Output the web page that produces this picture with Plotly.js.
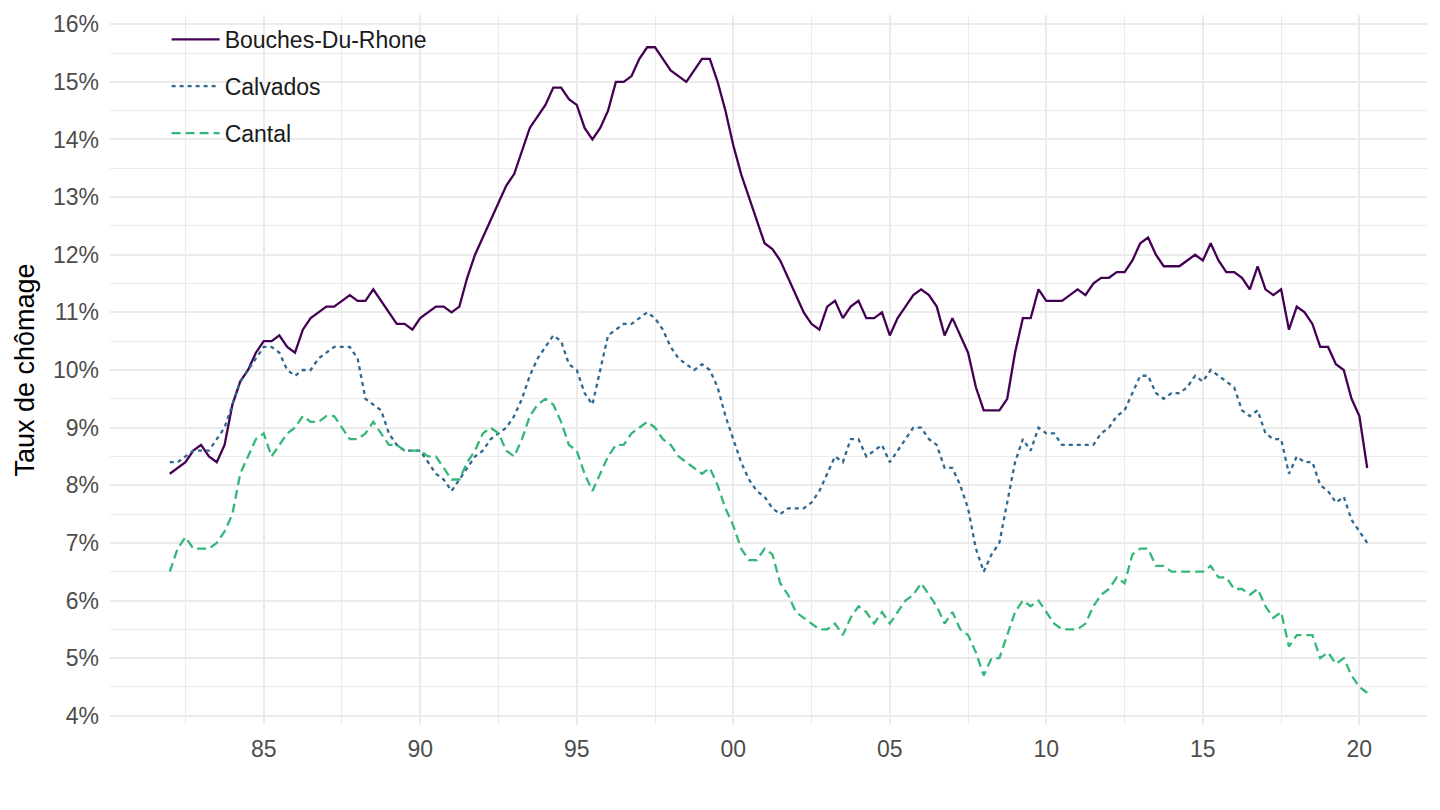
<!DOCTYPE html>
<html>
<head>
<meta charset="utf-8">
<script src="https://cdn.plot.ly/plotly-3.0.1.min.js"></script>
<style>
  html, body { margin: 0; padding: 0; background: #ffffff; }
  #chart { width: 1440px; height: 810px; }
</style>
</head>
<body>
<div id="chart"></div>
<script>
// Quarterly unemployment rate (%), 1982 Q1 to 2020 Q2
const firstYear = 1982;
const firstQuarter = 1;

const seriesNames = ["Bouches-Du-Rhone", "Calvados", "Cantal"];

const bouchesDuRhone = [
  8.2, 8.3, 8.4, 8.6, 8.7, 8.5, 8.4, 8.7, 9.4, 9.8, 10.0, 10.3, 10.5, 10.5, 10.6, 10.4,
  10.3, 10.7, 10.9, 11.0, 11.1, 11.1, 11.2, 11.3, 11.2, 11.2, 11.4, 11.2, 11.0, 10.8, 10.8, 10.7,
  10.9, 11.0, 11.1, 11.1, 11.0, 11.1, 11.6, 12.0, 12.3, 12.6, 12.9, 13.2, 13.4, 13.8, 14.2, 14.4,
  14.6, 14.9, 14.9, 14.7, 14.6, 14.2, 14.0, 14.2, 14.5, 15.0, 15.0, 15.1, 15.4, 15.6, 15.6, 15.4,
  15.2, 15.1, 15.0, 15.2, 15.4, 15.4, 15.0, 14.5, 13.9, 13.4, 13.0, 12.6, 12.2, 12.1, 11.9, 11.6,
  11.3, 11.0, 10.8, 10.7, 11.1, 11.2, 10.9, 11.1, 11.2, 10.9, 10.9, 11.0, 10.6, 10.9, 11.1, 11.3,
  11.4, 11.3, 11.1, 10.6, 10.9, 10.6, 10.3, 9.7, 9.3, 9.3, 9.3, 9.5, 10.3, 10.9, 10.9, 11.4,
  11.2, 11.2, 11.2, 11.3, 11.4, 11.3, 11.5, 11.6, 11.6, 11.7, 11.7, 11.9, 12.2, 12.3, 12.0, 11.8,
  11.8, 11.8, 11.9, 12.0, 11.9, 12.2, 11.9, 11.7, 11.7, 11.6, 11.4, 11.8, 11.4, 11.3, 11.4, 10.7,
  11.1, 11.0, 10.8, 10.4, 10.4, 10.1, 10.0, 9.5, 9.2, 8.3
];

const calvados = [
  8.4, 8.4, 8.5, 8.6, 8.6, 8.6, 8.8, 9.0, 9.4, 9.8, 10.0, 10.2, 10.4, 10.4, 10.3, 10.0,
  9.9, 10.0, 10.0, 10.2, 10.3, 10.4, 10.4, 10.4, 10.2, 9.5, 9.4, 9.3, 8.9, 8.7, 8.6, 8.6,
  8.6, 8.4, 8.2, 8.1, 7.9, 8.1, 8.3, 8.5, 8.6, 8.8, 8.9, 9.0, 9.2, 9.5, 9.9, 10.2,
  10.4, 10.6, 10.5, 10.1, 10.0, 9.6, 9.4, 10.0, 10.6, 10.7, 10.8, 10.8, 10.9, 11.0, 10.9, 10.7,
  10.4, 10.2, 10.1, 10.0, 10.1, 10.0, 9.7, 9.2, 8.8, 8.4, 8.1, 7.9, 7.8, 7.6, 7.5, 7.6,
  7.6, 7.6, 7.7, 7.9, 8.2, 8.5, 8.4, 8.8, 8.8, 8.5, 8.6, 8.7, 8.4, 8.6, 8.8, 9.0,
  9.0, 8.8, 8.7, 8.3, 8.3, 8.0, 7.6, 6.9, 6.5, 6.8, 7.0, 7.7, 8.4, 8.8, 8.6, 9.0,
  8.9, 8.9, 8.7, 8.7, 8.7, 8.7, 8.7, 8.9, 9.0, 9.2, 9.3, 9.6, 9.9, 9.9, 9.6, 9.5,
  9.6, 9.6, 9.7, 9.9, 9.8, 10.0, 9.9, 9.8, 9.7, 9.3, 9.2, 9.3, 8.9, 8.8, 8.8, 8.2,
  8.5, 8.4, 8.4, 8.0, 7.9, 7.7, 7.8, 7.4, 7.2, 7.0
];

const cantal = [
  6.5, 6.9, 7.1, 6.9, 6.9, 6.9, 7.0, 7.2, 7.5, 8.2, 8.5, 8.8, 8.9, 8.5, 8.7, 8.9,
  9.0, 9.2, 9.1, 9.1, 9.2, 9.2, 9.0, 8.8, 8.8, 8.9, 9.1, 8.9, 8.7, 8.7, 8.6, 8.6,
  8.6, 8.5, 8.5, 8.3, 8.1, 8.1, 8.4, 8.6, 8.9, 9.0, 8.9, 8.6, 8.5, 8.8, 9.2, 9.4,
  9.5, 9.4, 9.1, 8.7, 8.6, 8.2, 7.9, 8.2, 8.5, 8.7, 8.7, 8.9, 9.0, 9.1, 9.0, 8.8,
  8.7, 8.5, 8.4, 8.3, 8.2, 8.3, 8.0, 7.6, 7.3, 6.9, 6.7, 6.7, 6.9, 6.8, 6.3, 6.1,
  5.8, 5.7, 5.6, 5.5, 5.5, 5.6, 5.4, 5.7, 5.9, 5.8, 5.6, 5.8, 5.6, 5.8, 6.0, 6.1,
  6.3, 6.1, 5.9, 5.6, 5.8, 5.5, 5.4, 5.1, 4.7, 5.0, 5.0, 5.4, 5.8, 6.0, 5.9, 6.0,
  5.8, 5.6, 5.5, 5.5, 5.5, 5.6, 5.9, 6.1, 6.2, 6.4, 6.3, 6.8, 6.9, 6.9, 6.6, 6.6,
  6.5, 6.5, 6.5, 6.5, 6.5, 6.6, 6.4, 6.4, 6.2, 6.2, 6.1, 6.2, 5.9, 5.7, 5.8, 5.2,
  5.4, 5.4, 5.4, 5.0, 5.1, 4.9, 5.0, 4.7, 4.5, 4.4
];

const xTickVals = [1985, 1990, 1995, 2000, 2005, 2010, 2015, 2020];
const xTickText = ["85", "90", "95", "00", "05", "10", "15", "20"];
const xMinorVals = [1982.5, 1987.5, 1992.5, 1997.5, 2002.5, 2007.5, 2012.5, 2017.5];
const yTickVals = [4, 5, 6, 7, 8, 9, 10, 11, 12, 13, 14, 15, 16];
const yTickText = ["4%", "5%", "6%", "7%", "8%", "9%", "10%", "11%", "12%", "13%", "14%", "15%", "16%"];
const yMinorVals = [4.5, 5.5, 6.5, 7.5, 8.5, 9.5, 10.5, 11.5, 12.5, 13.5, 14.5, 15.5];

// time index (decimal years, one point per quarter)
const time = bouchesDuRhone.map((_, i) => firstYear + (firstQuarter - 1) / 4 + i / 4);

const colors = ["#440154", "#31688E", "#35B779"];
const dashes = ["solid", "4px,4px", "9px,5px"];
const allSeries = [bouchesDuRhone, calvados, cantal];

const traces = allSeries.map((vals, i) => ({
  x: time,
  y: vals,
  type: "scatter",
  mode: "lines",
  name: seriesNames[i],
  legendgroup: "g" + i,
  line: { color: colors[i], width: 2.3, dash: dashes[i] },
  hoverinfo: "x+y+name"
}));

const gridColor = "#EBEBEB";
const fontFamily = "'Liberation Sans', Arial, Helvetica, sans-serif";

const layout = {
  width: 1440,
  height: 810,
  paper_bgcolor: "#ffffff",
  plot_bgcolor: "#ffffff",
  font: { family: fontFamily, color: "#000000" },
  margin: { l: 110, r: 13, t: 15, b: 85 },
  showlegend: true,
  legend: {
    x: 0.043, y: 0.996, xanchor: "left", yanchor: "top",
    font: { size: 23, color: "#1a1a1a", family: fontFamily },
    bgcolor: "rgba(0,0,0,0)",
    tracegroupgap: 14,
    itemwidth: 48
  },
  xaxis: {
    range: [1980.09, 2022.16],
    tickmode: "array",
    tickvals: xTickVals,
    ticktext: xTickText,
    showgrid: true,
    gridcolor: gridColor,
    gridwidth: 2,
    zeroline: false,
    showline: false,
    ticks: "",
    ticklabelstandoff: 8,
    tickfont: { size: 23, color: "#4D4D4D", family: fontFamily },
    minor: { tickmode: "array", tickvals: xMinorVals, showgrid: true, gridcolor: gridColor, gridwidth: 1, ticks: "" }
  },
  yaxis: {
    range: [3.84, 16.16],
    tickmode: "array",
    tickvals: yTickVals,
    ticktext: yTickText,
    showgrid: true,
    gridcolor: gridColor,
    gridwidth: 2,
    zeroline: false,
    showline: false,
    ticks: "",
    ticklabelstandoff: 10,
    tickfont: { size: 23, color: "#4D4D4D", family: fontFamily },
    minor: { tickmode: "array", tickvals: yMinorVals, showgrid: true, gridcolor: gridColor, gridwidth: 1, ticks: "" },
    title: { text: "Taux de chômage", font: { size: 27, color: "#000000", family: fontFamily }, standoff: 10 },
    automargin: false
  }
};

Plotly.newPlot("chart", traces, layout, { displayModeBar: false, responsive: false });
</script>
</body>
</html>
